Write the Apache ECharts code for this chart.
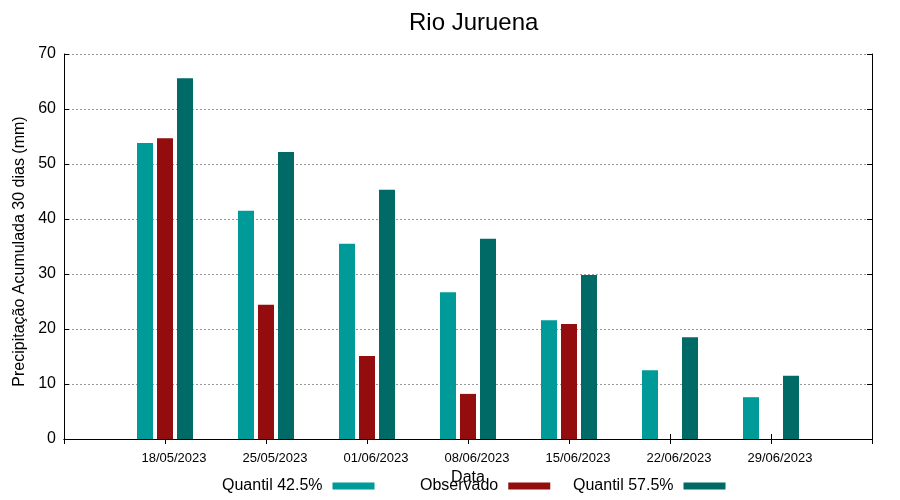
<!DOCTYPE html>
<html>
<head>
<meta charset="utf-8">
<script src="https://cdn.jsdelivr.net/npm/echarts@6/dist/echarts.min.js"></script>
<style>html,body{margin:0;padding:0;background:#fff}#c{width:900px;height:500px}</style>
</head>
<body>
<div id="c"></div>
<script>
const categories = ['18/05/2023','25/05/2023','01/06/2023','08/06/2023','15/06/2023','22/06/2023','29/06/2023'];
const quantil425 = [53.8, 41.5, 35.5, 26.7, 21.6, 12.5, 7.6];
const observado = [54.7, 24.4, 15.1, 8.2, 20.9, null, null];
const quantil575 = [65.6, 52.2, 45.3, 36.4, 29.8, 18.5, 11.5];
const seriesNames = ['Quantil 42.5%', 'Observado', 'Quantil 57.5%'];
const seriesColors = ['#009a99', '#930d0f', '#006a66'];
const yTicks = [0, 10, 20, 30, 40, 50, 60, 70];

const FONT = 'Liberation Sans, Arial, sans-serif';
const cats = [''].concat(categories).concat(['']);
const pad = arr => [null].concat(arr).concat([null]);
const legendLefts = [222, 420, 573];

const chart = echarts.init(document.getElementById('c'), null, {renderer: 'canvas'});
const axisLineStyle = {show: true, lineStyle: {color: '#000', width: 1}};
const tickStyle = {show: true, inside: true, length: 5, lineStyle: {color: '#000', width: 1}};
chart.setOption({
  animation: false,
  backgroundColor: '#fff',
  title: {
    text: 'Rio Juruena', left: 404, top: 6,
    textStyle: {fontFamily: FONT, fontSize: 24, fontWeight: 'normal', color: '#000'}
  },
  legend: seriesNames.map((n, i) => ({
    top: 478, left: legendLefts[i], align: 'right', itemWidth: 42, itemHeight: 7,
    icon: 'rect', padding: 0,
    textStyle: {fontFamily: FONT, fontSize: 16, color: '#000', padding: [0, 5, 0, 0]},
    data: [n]
  })),
  grid: {left: 64, right: 28, top: 54, bottom: 61},
  xAxis: [{
    type: 'category', data: cats, boundaryGap: false, position: 'bottom',
    axisLine: axisLineStyle, axisTick: Object.assign({}, tickStyle, {interval: 0}),
    axisLabel: {interval: 0, fontFamily: FONT, fontSize: 13, color: '#000', margin: 13, padding: [0, 0, 0, 18]},
    name: 'Data', nameLocation: 'middle', nameGap: 25,
    nameTextStyle: {fontFamily: FONT, fontSize: 16, color: '#000'},
    splitLine: {show: false}
  }, {
    type: 'category', data: cats, boundaryGap: false, position: 'top',
    axisLine: axisLineStyle, axisTick: Object.assign({}, tickStyle, {interval: 0}),
    axisLabel: {show: false}, splitLine: {show: false}
  }],
  yAxis: [{
    type: 'value', min: yTicks[0], max: yTicks[yTicks.length - 1], interval: 10, position: 'left',
    axisLine: axisLineStyle, axisTick: tickStyle,
    axisLabel: {fontFamily: FONT, fontSize: 16, color: '#000', margin: 8},
    splitLine: {show: true, lineStyle: {color: '#999', width: 1, type: [2, 2]}},
    name: 'Precipitação Acumulada 30 dias (mm)', nameLocation: 'middle', nameGap: 35,
    nameTextStyle: {fontFamily: FONT, fontSize: 16, color: '#000', padding: [0, 10, 0, 0]}
  }, {
    type: 'value', min: yTicks[0], max: yTicks[yTicks.length - 1], interval: 10, position: 'right',
    axisLine: axisLineStyle, axisTick: tickStyle, axisLabel: {show: false}, splitLine: {show: false}
  }],
  series: [
    {name: seriesNames[0], type: 'bar', data: pad(quantil425), barWidth: 16, barGap: '25%', itemStyle: {color: seriesColors[0]}},
    {name: seriesNames[1], type: 'bar', data: pad(observado), barWidth: 16, barGap: '25%', itemStyle: {color: seriesColors[1]}},
    {name: seriesNames[2], type: 'bar', data: pad(quantil575), barWidth: 16, barGap: '25%', itemStyle: {color: seriesColors[2]}}
  ]
});
</script>
</body>
</html>
